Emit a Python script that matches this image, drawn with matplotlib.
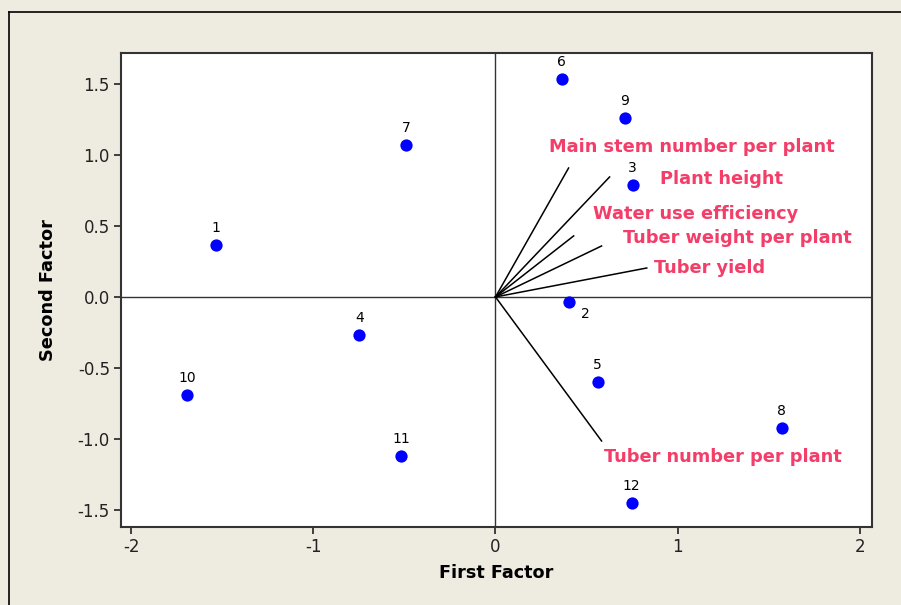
import matplotlib
matplotlib.use("Agg")
import matplotlib.pyplot as plt
from matplotlib.lines import Line2D

# Scores (observations)
obs_labels = ["1", "2", "3", "4", "5", "6", "7", "8", "9", "10", "11", "12"]
obs_x = [-1.533, 0.401, 0.753, -0.747, 0.560, 0.363, -0.489, 1.571, 0.709, -1.692, -0.516, 0.747]
obs_y = [0.366, -0.035, 0.789, -0.268, -0.599, 1.535, 1.070, -0.923, 1.260, -0.690, -1.120, -1.450]

# Loadings (variables)
var_names = ["Main stem number per plant", "Plant height", "Water use efficiency",
             "Tuber weight per plant", "Tuber yield", "Tuber number per plant"]
var_x = [0.401, 0.626, 0.429, 0.582, 0.830, 0.582]
var_y = [0.908, 0.845, 0.430, 0.359, 0.204, -1.014]
# label anchor (left, center) positions
lab_x = [0.291, 0.901, 0.533, 0.698, 0.868, 0.593]
lab_y = [1.056, 0.831, 0.585, 0.415, 0.204, -1.127]

x_ticks = [-2, -1, 0, 1, 2]
y_ticks = [-1.5, -1.0, -0.5, 0.0, 0.5, 1.0, 1.5]

bg = "#EEEBE0"
red = "#F23E68"

fig = plt.figure(figsize=(9.01, 6.05), dpi=100, facecolor=bg)
ax = fig.add_axes([121/901, 1-527/605, (872-121)/901, (527-53)/605])
ax.set_facecolor("white")

ax.set_xlim(-2.055, 2.066)
ax.set_ylim(-1.62, 1.718)

ax.axhline(0, color="#333333", lw=1.0, zorder=1)
ax.axvline(0, color="#333333", lw=1.0, zorder=1)

for vx, vy in zip(var_x, var_y):
    ax.plot([0, vx], [0, vy], color="black", lw=1.1, zorder=2)

ax.scatter(obs_x, obs_y, s=78, color="#0000FF", zorder=3, linewidths=0)

for lab, x, y in zip(obs_labels, obs_x, obs_y):
    if lab == "2":
        ax.annotate(lab, (x, y), xytext=(12, -9), textcoords="offset points",
                    ha="center", va="center", fontsize=10, color="black")
    else:
        ax.annotate(lab, (x, y), xytext=(0, 7), textcoords="offset points",
                    ha="center", va="bottom", fontsize=10, color="black")

for name, x, y in zip(var_names, lab_x, lab_y):
    ax.text(x, y, name, color=red, fontsize=12.8, fontweight="bold", ha="left", va="center")

ax.set_xticks(x_ticks)
ax.set_xticklabels([str(t) for t in x_ticks])
ax.set_yticks(y_ticks)
ax.set_yticklabels([f"{t:.1f}" for t in y_ticks])
ax.tick_params(direction="out", length=5, width=1.2, labelsize=12, colors="#222222", pad=3)

for s in ax.spines.values():
    s.set_color("#333333")
    s.set_linewidth(1.5)

ax.set_xlabel("First Factor", fontsize=12.7, fontweight="bold", labelpad=6)
ax.set_ylabel("Second Factor", fontsize=12.8, fontweight="bold", labelpad=15)

# outer frame lines (top and left)
fig.add_artist(Line2D([9/901, 1], [1-12/605, 1-12/605], transform=fig.transFigure, color="black", lw=1.2))
fig.add_artist(Line2D([9/901, 9/901], [0, 1-12/605], transform=fig.transFigure, color="black", lw=1.2))

fig.savefig("out.png", dpi=100, facecolor=bg)
